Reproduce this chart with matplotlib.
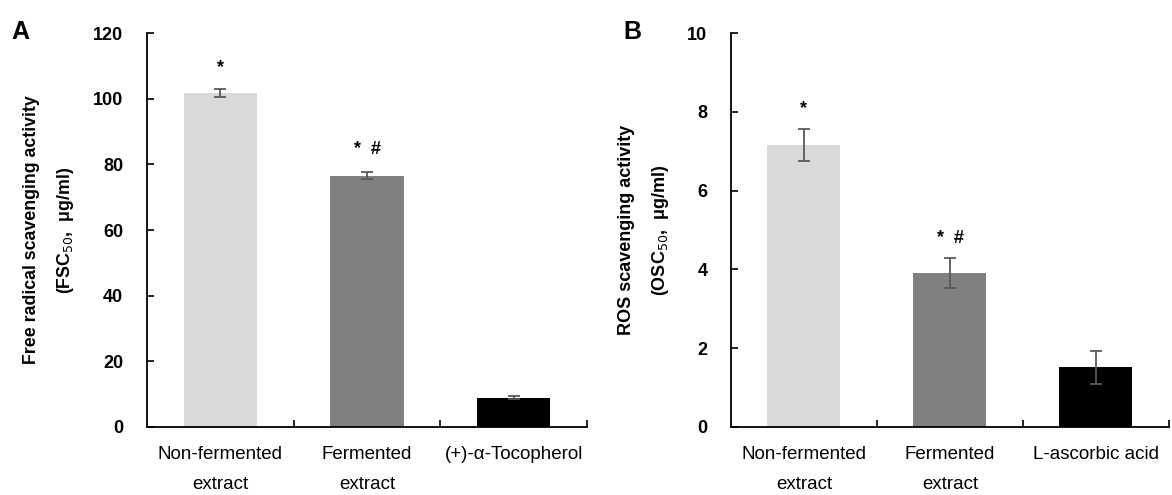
import numpy as np
import matplotlib.pyplot as plt

# Panel A: free radical scavenging (FSC50)
labels_a = ["Non-fermented\nextract", "Fermented\nextract", "(+)-\u03b1-Tocopherol"]
fsc50 = [101.8, 76.6, 8.9]
fsc50_err = [1.2, 1.2, 0.5]
marks_a = ["*", "*  #", ""]

# Panel B: ROS scavenging (OSC50)
labels_b = ["Non-fermented\nextract", "Fermented\nextract", "L-ascorbic acid"]
osc50 = [7.16, 3.90, 1.51]
osc50_err = [0.40, 0.38, 0.43]
marks_b = ["*", "*  #", ""]

bar_colors = ["#d9d9d9", "#808080", "#000000"]

plt.rcParams['font.family'] = ['Liberation Sans', 'DejaVu Sans']

fig = plt.figure(figsize=(11.72, 4.95), dpi=100)
ax_a = fig.add_axes([0.1254, 0.1374, 0.3755, 0.7959])
ax_b = fig.add_axes([0.6237, 0.1374, 0.3737, 0.7959])


def draw_panel(ax, labels, vals, errs, marks, ymax, ystep, mark_off, ylabel, ysize):
    x = np.arange(len(vals)) + 0.5
    ax.bar(x, vals, width=0.5, color=bar_colors, zorder=2)
    ax.errorbar(x, vals, yerr=errs, fmt='none', ecolor='#595959',
                elinewidth=1.3, capsize=4, capthick=1.3, zorder=3)
    for xi, v, e, m in zip(x, vals, errs, marks):
        if m:
            ax.text(xi, v + e + mark_off, m, ha='center', va='bottom',
                    fontsize=13, fontweight='bold')
    ax.set_xlim(0, len(vals))
    ax.set_ylim(0, ymax)
    ax.set_yticks(np.arange(0, ymax + ystep / 2, ystep))
    ax.set_xticks(x)
    ax.set_xticklabels(labels, fontsize=13.5, linespacing=1.95)
    ax.set_xticks(np.arange(1, len(vals) + 1), minor=True)
    ax.tick_params(axis='x', which='major', length=0, pad=14)
    ax.tick_params(axis='x', which='minor', direction='in', length=5, width=1.2)
    ax.tick_params(axis='y', direction='in', length=5, width=1.2, pad=17,
                   labelsize=13)
    for lab in ax.get_yticklabels():
        lab.set_fontweight('bold')
    for s in ['top', 'right']:
        ax.spines[s].set_visible(False)
    for s in ['left', 'bottom']:
        ax.spines[s].set_linewidth(1.3)
    ax.set_ylabel(ylabel, fontsize=ysize, fontweight='bold', linespacing=2.0,
                  labelpad=12)


draw_panel(ax_a, labels_a, fsc50, fsc50_err, marks_a, 120, 20, 4,
           "Free radical scavenging activity\n(FSC$_{50}$,  \u03bcg/ml)", 12.8)
draw_panel(ax_b, labels_b, osc50, osc50_err, marks_b, 10, 2, 0.3,
           "ROS scavenging activity\n(OSC$_{50}$,  \u03bcg/ml)", 13)

fig.text(0.010, 0.935, "A", fontsize=18, fontweight='bold', va='center')
fig.text(0.532, 0.935, "B", fontsize=18, fontweight='bold', va='center')

fig.savefig("out.png", dpi=100)
